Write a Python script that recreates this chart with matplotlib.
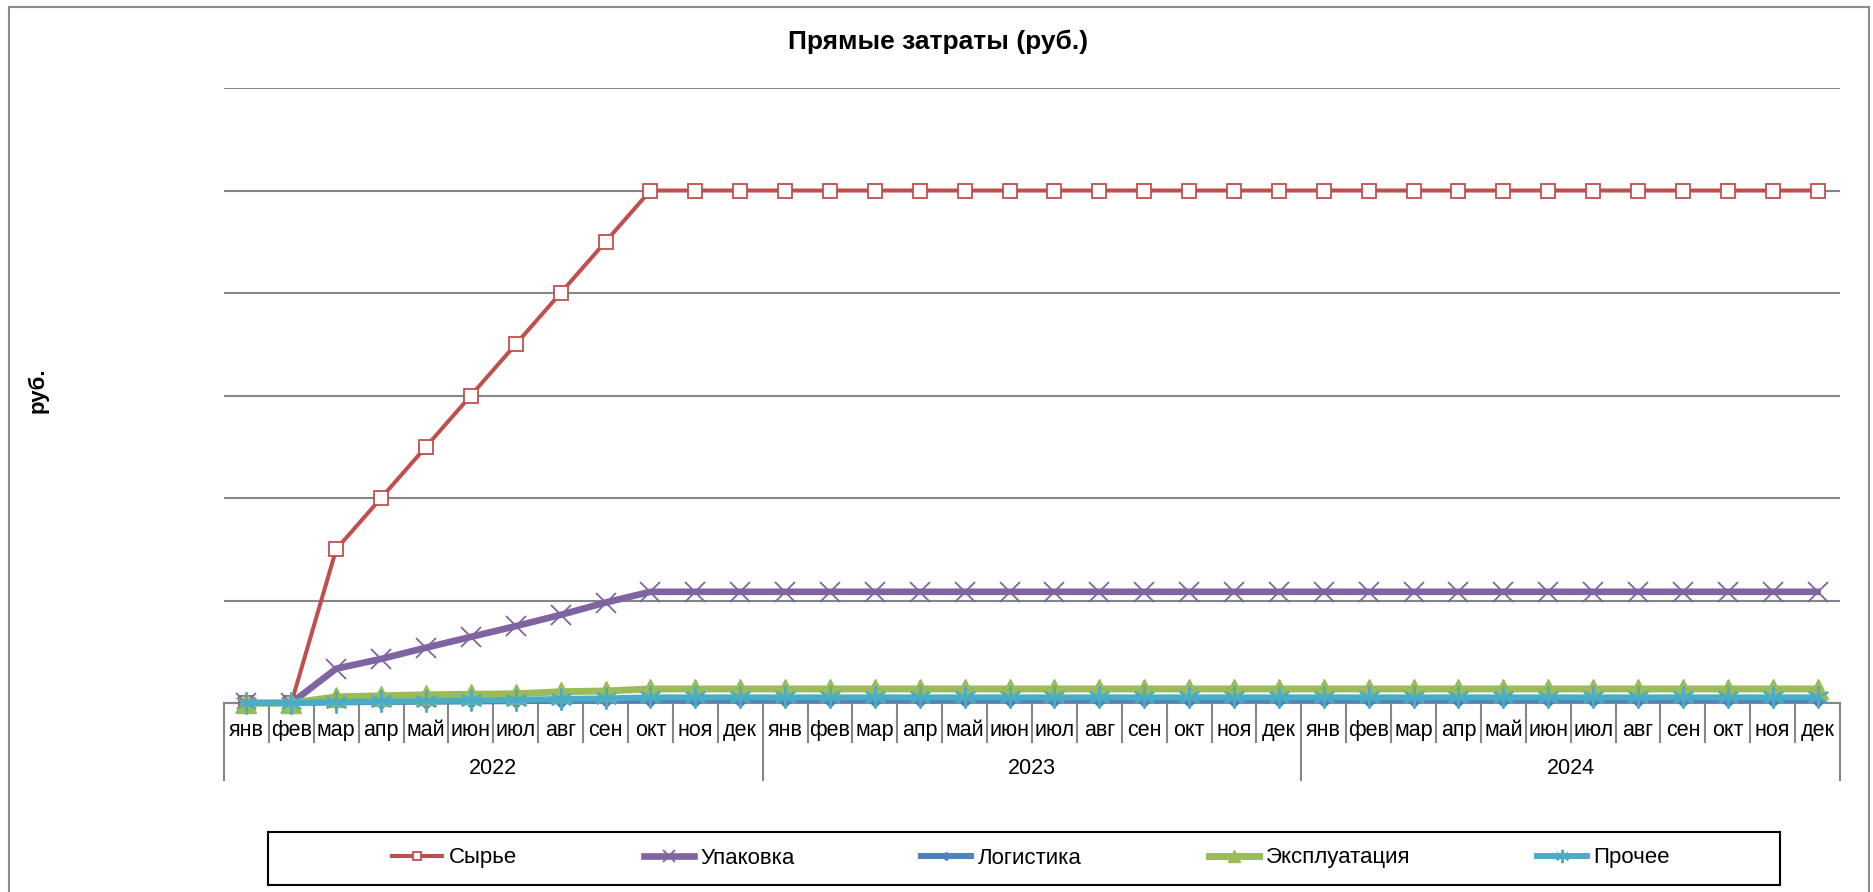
import matplotlib
matplotlib.use("Agg")
import matplotlib.pyplot as plt
from matplotlib.patches import Rectangle
import matplotlib.transforms as mtransforms

plt.rcParams['font.family'] = ['Liberation Sans', 'DejaVu Sans']

# ---- data (units: one grid step) ----
months = ["янв", "фев", "мар", "апр", "май", "июн", "июл", "авг", "сен", "окт", "ноя", "дек"]
years = ["2022", "2023", "2024"]

syrye_2022 = [0, 0, 1.5, 2.0, 2.5, 3.0, 3.5, 4.0, 4.5, 5.0, 5.0, 5.0]
upakovka_2022 = [0, 0, 0.335, 0.43, 0.54, 0.645, 0.75, 0.86, 0.98, 1.085, 1.085, 1.085]
logistika_2022 = [0, 0, 0.005, 0.01, 0.012, 0.015, 0.018, 0.022, 0.026, 0.03, 0.03, 0.03]
ekspl_2022 = [0, 0, 0.06, 0.07, 0.08, 0.085, 0.09, 0.11, 0.117, 0.137, 0.137, 0.137]
prochee_2022 = [0, 0, 0.01, 0.015, 0.02, 0.025, 0.03, 0.04, 0.045, 0.055, 0.055, 0.055]

# 2023 и 2024 - на уровне декабря 2022
syrye = syrye_2022 + [5.0] * 24
upakovka = upakovka_2022 + [1.085] * 24
logistika = logistika_2022 + [0.03] * 24
ekspl = ekspl_2022 + [0.137] * 24
prochee = prochee_2022 + [0.055] * 24

x = list(range(len(syrye)))

fig = plt.figure(figsize=(18.74, 8.92), dpi=100)

# outer frame
fig.patches.append(Rectangle((9 / 1874, -0.02), 1860 / 1874, 1.02 - 7 / 892,
                             transform=fig.transFigure, fill=False,
                             edgecolor="#8c8c8c", linewidth=1.5))

ax = fig.add_axes([224 / 1874, 1 - 703 / 892, 1616 / 1874, 615 / 892])

ax.plot(x, syrye, color="#C0504D", linewidth=2.9, marker="s", markersize=10.5,
        markerfacecolor="white", markeredgecolor="#C0504D", markeredgewidth=1.3,
        label="Сырье", clip_on=False, zorder=3)
ax.plot(x, upakovka, color="#8064A2", linewidth=4.8, marker="x", markersize=14,
        markeredgewidth=1.3, label="Упаковка", clip_on=False, zorder=3)
ax.plot(x, logistika, color="#4F81BD", linewidth=4.3, marker="D", markersize=7.5,
        label="Логистика", clip_on=False, zorder=3)
ax.plot(x, ekspl, color="#9BBB59", linewidth=5, marker="^", markersize=14,
        label="Эксплуатация", clip_on=False, zorder=3)
ax.plot(x, prochee, color="#4BACC6", linewidth=4.3, marker=(6, 2, 0), markersize=16,
        markeredgewidth=1.4, label="Прочее", clip_on=False, zorder=3)

ax.set_xlim(-0.5, len(x) - 0.5)
ax.set_ylim(0, 6)
ax.set_yticks(range(0, 7))
ax.set_yticklabels([])
ax.tick_params(axis="y", length=0)
ax.grid(axis="y", color="#868686", linewidth=1.5)
ax.set_axisbelow(True)
for s in ["left", "right", "top"]:
    ax.spines[s].set_visible(False)
ax.spines["bottom"].set_color("#868686")
ax.spines["bottom"].set_linewidth(1.5)
ax.set_xticks([])

# category axis with months and years
trans = mtransforms.blended_transform_factory(ax.transData, ax.transAxes)
n = len(x)
for i in range(n + 1):
    xb = i - 0.5
    bottom = -0.125 if i % 12 == 0 else -0.063
    ax.plot([xb, xb], [0, bottom], color="#868686", linewidth=1.5,
            transform=trans, clip_on=False)
for i in range(n):
    ax.text(i, -0.044, months[i % 12], transform=trans, ha="center", va="center",
            fontsize=15.5)
for k, yr in enumerate(years):
    ax.text(12 * k + 5.5, -0.106, yr, transform=trans, ha="center", va="center",
            fontsize=15.5)

fig.text(0.5005, 1 - 42 / 892, "Прямые затраты (руб.)", ha="center", va="center",
         fontsize=19, fontweight="bold")
fig.text(38 / 1874, 1 - 390 / 892, "руб.", ha="center", va="center", rotation=90,
         fontsize=16, fontweight="bold")

# legend
fig.patches.append(Rectangle((268 / 1874, 1 - 885 / 892), 1512 / 1874, 53 / 892,
                             transform=fig.transFigure, fill=False,
                             edgecolor="black", linewidth=1.5))
leg = fig.legend(loc="center", bbox_to_anchor=(1031 / 1874, 1 - 858 / 892), ncol=5,
                 frameon=False, fontsize=16, handlelength=2.25, handletextpad=0.3,
                 columnspacing=5.7, markerscale=0.6)

fig.savefig("out.png", dpi=100)
